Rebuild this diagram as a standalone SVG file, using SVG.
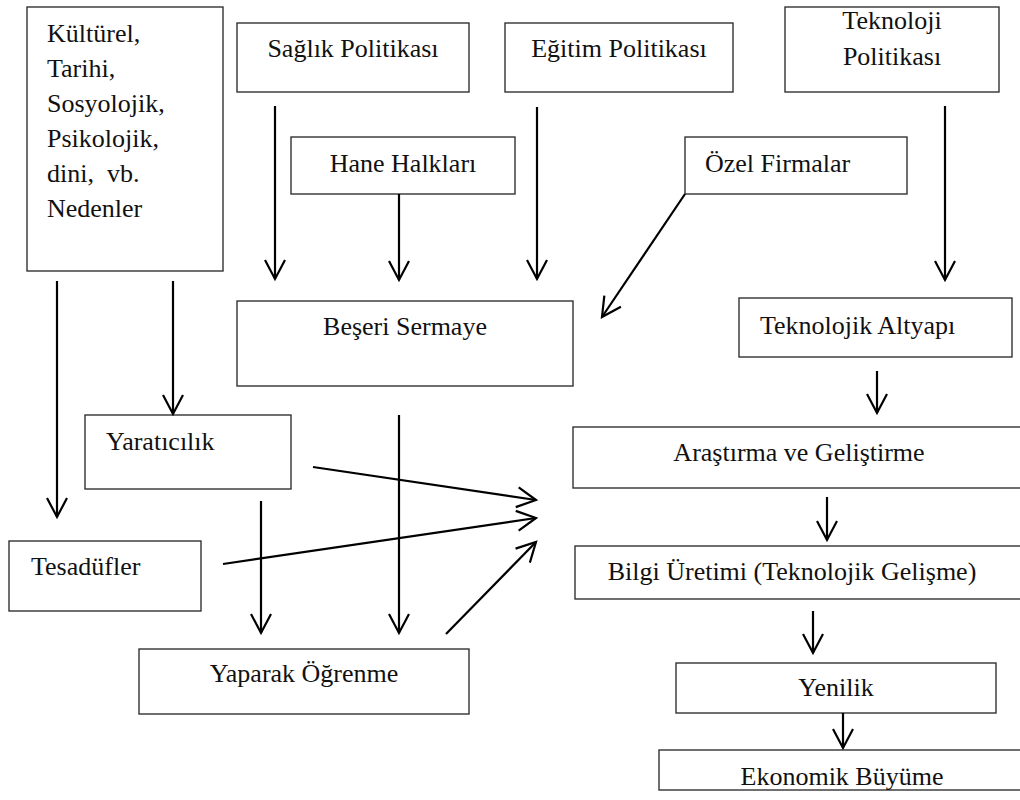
<svg xmlns="http://www.w3.org/2000/svg" width="1020" height="800" viewBox="0 0 1020 800">
<style>
  .box { fill: #fff; stroke: #333; stroke-width: 1.4; }
  .t { font-family: "Liberation Serif", "Times New Roman", serif; font-size: 26px; fill: #111; }
  .c { text-anchor: middle; }
  .a { fill: none; stroke: #000; stroke-width: 2.2; marker-end: url(#ah); }
</style>
<defs>
  <marker id="ah" markerUnits="userSpaceOnUse" markerWidth="26" markerHeight="26" viewBox="-22 -13 26 26" refX="0" refY="0" orient="auto">
    <path d="M-19,-10 L0,0 L-19,10" fill="none" stroke="#000" stroke-width="2.2"/>
  </marker>
</defs>
<rect width="1020" height="800" fill="#fff"/>

<g id="kulturel">
  <rect class="box" x="27" y="7" width="196" height="264"/>
  <text class="t" x="47" y="42">Kültürel,</text>
  <text class="t" x="47" y="77">Tarihi,</text>
  <text class="t" x="47" y="112">Sosyolojik,</text>
  <text class="t" x="47" y="147">Psikolojik,</text>
  <text class="t" x="47" y="182" style="white-space:pre">dini,  vb.</text>
  <text class="t" x="47" y="217">Nedenler</text>
</g>
<g id="saglik">
  <rect class="box" x="237" y="23" width="232" height="69"/>
  <text class="t c" x="353" y="57">Sağlık Politikası</text>
</g>
<g id="egitim">
  <rect class="box" x="505" y="23" width="228" height="69"/>
  <text class="t c" x="619" y="57">Eğitim Politikası</text>
</g>
<g id="teknoloji">
  <rect class="box" x="785" y="7" width="214" height="85"/>
  <text class="t c" x="892" y="29">Teknoloji</text>
  <text class="t c" x="892" y="65">Politikası</text>
</g>
<g id="hane">
  <rect class="box" x="291" y="137" width="224" height="57"/>
  <text class="t c" x="403" y="172">Hane Halkları</text>
</g>
<g id="ozel">
  <rect class="box" x="685" y="137" width="222" height="57"/>
  <text class="t" x="705" y="172">Özel Firmalar</text>
</g>
<g id="beseri">
  <rect class="box" x="237" y="301" width="336" height="85"/>
  <text class="t c" x="405" y="335">Beşeri Sermaye</text>
</g>
<g id="altyapi">
  <rect class="box" x="739" y="298" width="273" height="59"/>
  <text class="t" x="760" y="334">Teknolojik Altyapı</text>
</g>
<g id="yaraticilik">
  <rect class="box" x="85" y="415" width="206" height="74"/>
  <text class="t" x="106" y="450">Yaratıcılık</text>
</g>
<g id="tesadufler">
  <rect class="box" x="9" y="541" width="192" height="70"/>
  <text class="t" x="31" y="575">Tesadüfler</text>
</g>
<g id="yaparak">
  <rect class="box" x="139" y="649" width="330" height="65"/>
  <text class="t c" x="304" y="682">Yaparak Öğrenme</text>
</g>
<g id="arge">
  <rect class="box" x="573" y="427" width="460" height="61"/>
  <text class="t c" x="799" y="461">Araştırma ve Geliştirme</text>
</g>
<g id="bilgi">
  <rect class="box" x="575" y="546" width="460" height="53"/>
  <text class="t c" x="792" y="580">Bilgi Üretimi (Teknolojik Gelişme)</text>
</g>
<g id="yenilik">
  <rect class="box" x="676" y="663" width="320" height="50"/>
  <text class="t c" x="836" y="696">Yenilik</text>
</g>
<g id="ekonomik">
  <rect class="box" x="659" y="750" width="380" height="40"/>
  <text class="t c" x="842" y="785">Ekonomik Büyüme</text>
</g>

<g id="connectors">
  <line class="a" x1="57" y1="281" x2="57" y2="517"/>
  <line class="a" x1="173" y1="281" x2="173" y2="414"/>
  <line class="a" x1="275" y1="106" x2="275" y2="279"/>
  <line class="a" x1="399" y1="194" x2="399" y2="280"/>
  <line class="a" x1="537" y1="107" x2="537" y2="279"/>
  <line class="a" x1="685" y1="194" x2="602" y2="317"/>
  <line class="a" x1="945" y1="106" x2="945" y2="280"/>
  <line class="a" x1="877" y1="371" x2="877" y2="413"/>
  <line class="a" x1="827" y1="497" x2="827" y2="540"/>
  <line class="a" x1="813" y1="611" x2="813" y2="653"/>
  <line class="a" x1="843" y1="713" x2="843" y2="748"/>
  <line class="a" x1="399" y1="415" x2="399" y2="633"/>
  <line class="a" x1="261" y1="501" x2="261" y2="633"/>
  <line class="a" x1="313" y1="467" x2="536" y2="500"/>
  <line class="a" x1="223" y1="564" x2="536" y2="518"/>
  <line class="a" x1="446" y1="634" x2="536" y2="542"/>
</g>
</svg>
